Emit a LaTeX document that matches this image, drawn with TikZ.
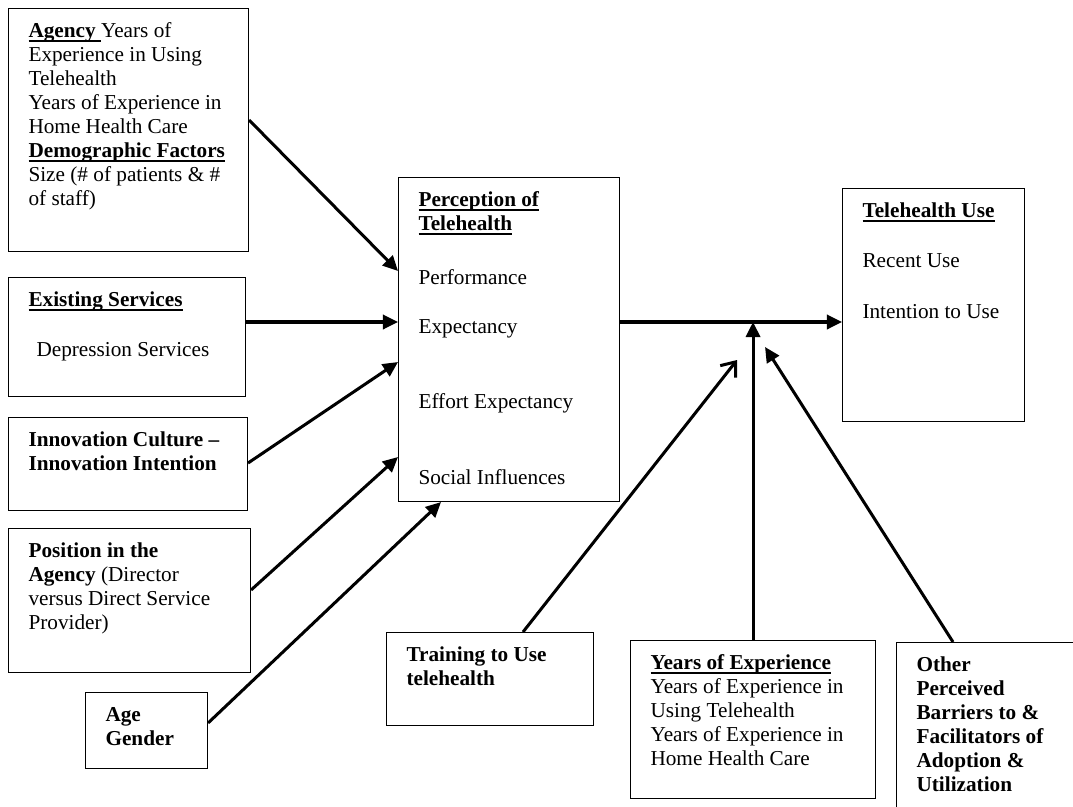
\documentclass[tikz,border=0pt]{standalone}
\usepackage{fontspec}
\setmainfont{Liberation Serif}
\usetikzlibrary{arrows.meta,calc}
\newlength{\pxu}
\setlength{\pxu}{0.565pt}
\newcommand{\boxlines}[3]{\parbox[t][#2\pxu][t]{#1\pxu}{\begin{tabular}[t]{@{}l@{}}#3\end{tabular}}}
\newcommand{\hdr}[1]{\setbox0\hbox{\textbf{#1}}\rlap{\rule[-2.4pt]{\wd0}{0.8pt}}\box0}
\tikzset{
  factor/.style={draw, line width=0.6pt, anchor=north west, inner xsep=20\pxu, inner ysep=12\pxu,
    font=\fontsize{12}{13.56}\selectfont},
  arr/.style={line width=1.7pt, -{Triangle[length=8.5pt,width=8pt]}},
  openarr/.style={line width=1.7pt, -{Straight Barb[length=7pt,width=11pt]}}
}
\begin{document}
\begin{tikzpicture}[x=\pxu, y=-\pxu]
      \useasboundingbox (0,0) rectangle (1073,806);
      \clip (0,0) rectangle (1073,806);
      % boxes on the left
      \node[factor] (agency) at (8,8) {\boxlines{200}{219}{
        \hdr{Agency }Years of\\
        Experience in Using\\
        Telehealth\\
        Years of Experience in\\
        Home Health Care\\
        \hdr{Demographic Factors}\\
        Size (\# of patients \& \#\\
        of staff)}};
      \node[factor] (exist) at (8,277) {\boxlines{197}{95}{
        \hdr{Existing Services}\\[26\pxu]
        \hspace*{8\pxu}Depression Services}};
      \node[factor] (innov) at (8,417) {\boxlines{199}{69}{
        \textbf{Innovation Culture --}\\
        \textbf{Innovation Intention}}};
      \node[factor] (posn) at (8,528) {\boxlines{202}{120}{
        \textbf{Position in the}\\
        \textbf{Agency} (Director\\
        versus Direct Service\\
        Provider)}};
      \node[factor] (age) at (85,692) {\boxlines{82}{52}{
        \textbf{Age}\\
        \textbf{Gender}}};
      % middle and right
      \node[factor] (perc) at (398,177) {\boxlines{181}{300}{
        \hdr{Perception of}\\
        \hdr{Telehealth}\\[30\pxu]
        Performance\\[25\pxu]
        Expectancy\\[51\pxu]
        Effort Expectancy\\[52\pxu]
        Social Influences}};
      \node[factor] (use) at (842,188) {\boxlines{142}{209}{
        \hdr{Telehealth Use}\\[26\pxu]
        Recent Use\\[27\pxu]
        Intention to Use}};
      % bottom row
      \node[factor] (train) at (386,632) {\boxlines{167}{69}{
        \textbf{Training to Use}\\
        \textbf{telehealth}}};
      \node[factor] (years) at (630,640) {\boxlines{205}{134}{
        \hdr{Years of Experience}\\
        Years of Experience in\\
        Using Telehealth\\
        Years of Experience in\\
        Home Health Care}};
      \node[factor] (other) at (896,642) {\boxlines{138}{176}{
        \textbf{Other}\\
        \textbf{Perceived}\\
        \textbf{Barriers to \&}\\
        \textbf{Facilitators of}\\
        \textbf{Adoption \&}\\
        \textbf{Utilization}}};
      \coordinate (usein) at ($(use.north west)+(0,134)$);
      \coordinate (join) at (years.north |- usein);
      \begin{scope}[arr]
        \draw ($(agency.north east)+(0,112)$) to ($(perc.north west)+(0,94)$);
        \draw ($(exist.north east)+(0,45)$) to ($(perc.north west)+(0,145)$);
        \draw ($(innov.north east)+(0,46)$) to ($(perc.north west)+(0,185)$);
        \draw ($(posn.north east)+(0,62)$) to ($(perc.north west)+(0,280)$);
        \draw ($(age.north east)+(0,31)$) to ($(perc.south west)+(43,0)$);
        \draw ($(perc.north east)+(0,145)$) to (usein);
        \draw (years.north) to (join);
        \draw ($(other.north west)+(57,0)$) to ($(join)+(12,25)$);
      \end{scope}
      \draw[openarr] ($(train.north west)+(137,0)$) to ($(join)+(-16,38)$);
    \end{tikzpicture}
\end{document}
